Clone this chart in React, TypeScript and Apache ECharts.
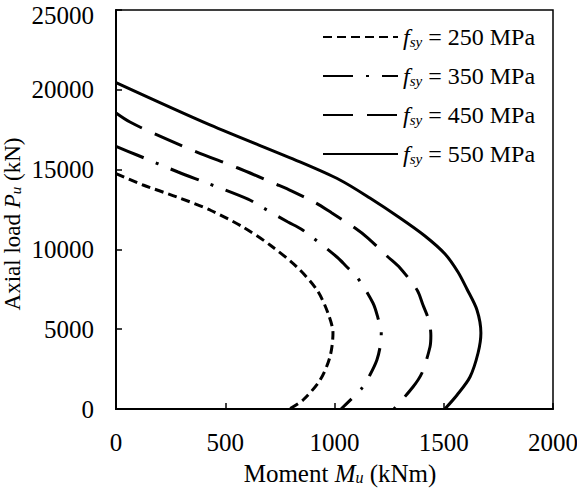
import React, { useEffect, useRef } from "react";
import * as echarts from "echarts";

const FONT = '"Liberation Serif", "Times New Roman", serif';

const xTicks = [0, 500, 1000, 1500, 2000];
const yTicks = [0, 5000, 10000, 15000, 20000, 25000];
const seriesNames = ["250", "350", "450", "550"];

// f_sy = 250 MPa
const m250 = [0, 124, 279, 430, 581, 705, 828, 920, 970, 993, 979, 934, 856, 794];
const p250 = [14750, 14035, 13283, 12469, 11403, 10276, 8897, 7456, 6015, 4762, 3258, 1817, 564, 0];
// f_sy = 350 MPa
const m350 = [0, 96, 284, 416, 604, 668, 787, 847, 897, 1011, 1057, 1103, 1176, 1199, 1214, 1210, 1194, 1162, 1126, 1030];
const p350 = [16450, 15915, 14850, 14160, 13150, 12650, 11716, 11278, 10777, 9524, 8897, 8270, 6640, 5700, 4800, 4000, 3070, 2130, 1316, 0];
// f_sy = 450 MPa
const m450 = [0, 64, 188, 370, 558, 741, 805, 910, 988, 1094, 1153, 1245, 1300, 1378, 1405, 1433, 1441, 1437, 1400, 1359, 1272];
const p450 = [18550, 17980, 17170, 16100, 15100, 14035, 13650, 12950, 12281, 11341, 10714, 9524, 8834, 7456, 6516, 5500, 4600, 3885, 2256, 1378, 0];
// f_sy = 550 MPa
const m550 = [0, 430, 842, 1025, 1162, 1300, 1414, 1506, 1565, 1606, 1652, 1670, 1657, 1620, 1561, 1505];
const p550 = [20450, 17800, 15480, 14350, 13220, 11967, 10840, 9712, 8584, 7519, 6203, 4762, 3509, 2005, 877, 0];

const dashTypes: any[] = [[9, 5], [30, 13, 3, 13], [30, 14], "solid"];

export default function App() {
  const ref = useRef<HTMLDivElement>(null);
  useEffect(() => {
    document.body.style.margin = "0";
    const chart = echarts.init(ref.current!, null, { renderer: "svg" });
    const pairs = [
      [m250, p250],
      [m350, p350],
      [m450, p450],
      [m550, p550],
    ];
    const series = pairs.map(([m, p], i) => ({
      name: seriesNames[i],
      type: "line",
      data: m.map((v, k) => [v, p[k]]),
      symbol: "none",
      showSymbol: false,
      smooth: 0.3,
      lineStyle: { color: "#000", width: 3, type: dashTypes[i], cap: "butt" },
      itemStyle: { color: "#000" },
    }));
    const mkRich = (size: number, sub: number) => ({
      n: { fontFamily: FONT, fontSize: size, color: "#000" },
      i: { fontFamily: FONT, fontSize: size, fontStyle: "italic", color: "#000" },
      s: { fontFamily: FONT, fontSize: sub, fontStyle: "italic", color: "#000", verticalAlign: "bottom", lineHeight: 10 },
    });
    const yMax = yTicks[yTicks.length - 1];
    chart.setOption({
      animation: false,
      backgroundColor: "#fff",
      grid: {
        left: 116,
        right: 24,
        top: 10,
        bottom: 79,
        show: true,
        containLabel: false,
        outerBoundsMode: "none",
        borderColor: "#000",
        borderWidth: 1.5,
      },
      legend: {
        orient: "vertical",
        left: 322,
        top: 25,
        padding: 0,
        itemWidth: 75,
        itemHeight: 14,
        itemGap: 15,
        data: seriesNames,
        itemStyle: { opacity: 0 },
        formatter: (name: string) => `{i|f}{s|sy}{n| = ${name} MPa}`,
        textStyle: { fontFamily: FONT, fontSize: 24, color: "#000", rich: mkRich(24, 15) },
      },
      graphic: [
        {
          type: "text",
          x: 12,
          y: 224,
          rotation: Math.PI / 2,
          style: {
            text: "{n|Axial load }{i|P}{s|u}{n| (kN)}",
            rich: mkRich(23, 15),
            align: "center",
            verticalAlign: "middle",
          },
        },
        {
          type: "text",
          x: 340,
          y: 473,
          style: {
            text: "{n|Moment }{i|M}{s|u}{n| (kNm)}",
            rich: mkRich(25, 16),
            align: "center",
            verticalAlign: "middle",
          },
        },
      ],
      xAxis: {
        type: "value",
        min: xTicks[0],
        max: xTicks[xTicks.length - 1],
        interval: 500,
        splitLine: { show: false },
        axisLine: { lineStyle: { color: "#000", width: 2 } },
        axisTick: { inside: true, length: 6, lineStyle: { color: "#000", width: 1.5 } },
        axisLabel: { fontFamily: FONT, fontSize: 25, color: "#000", margin: 21, formatter: (v: number) => String(v) },
      },
      yAxis: {
        type: "value",
        min: yTicks[0],
        max: yMax,
        interval: 5000,
        splitLine: { show: false },
        axisLine: { lineStyle: { color: "#000", width: 2 } },
        axisTick: { inside: true, length: 6, lineStyle: { color: "#000", width: 1.5 } },
        axisLabel: {
          fontFamily: FONT,
          fontSize: 25,
          color: "#000",
          margin: 22,
          formatter: (v: number) => (v === yMax ? `{t|${v}}` : String(v)),
          rich: { t: { fontFamily: FONT, fontSize: 25, color: "#000", padding: [10, 0, 0, 0] } },
        },
      },
      series,
    });
    return () => chart.dispose();
  }, []);
  return <div ref={ref} style={{ width: 577, height: 488 }} />;
}
